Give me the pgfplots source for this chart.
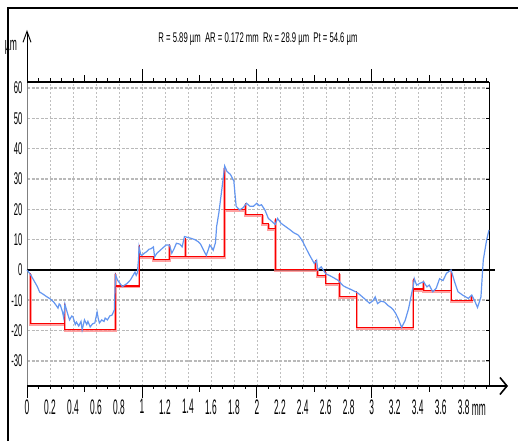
\documentclass[border=0pt]{standalone}
\usepackage{fontspec}
\setmainfont{Liberation Sans}
\newfontfamily\tickx{Liberation Sans}[FakeStretch=0.4]
\newfontfamily\ticky{Liberation Sans}[FakeStretch=0.45]
\newfontfamily\titlef{Liberation Sans}[FakeStretch=0.55]
\usepackage{pgfplots}
\pgfplotsset{compat=1.18}
\usetikzlibrary{arrows.meta}

\definecolor{profile}{RGB}{100,150,240}
\definecolor{meanred}{RGB}{250,0,0}
\definecolor{meanpink}{RGB}{255,130,130}

% mean line steps (red)
\pgfplotstableread{
x y
0.03 -1
0.03 -17.8
0.33 -17.8
0.33 -11
0.33 -19.8
0.77 -19.8
0.77 -1
0.77 -5.3
0.975 -5.3
0.975 8.3
0.975 4.3
1.10 4.3
1.10 3.4
1.24 3.4
1.24 8.5
1.24 4.3
1.38 4.3
1.38 10.5
1.38 4.3
1.72 4.3
1.72 34
1.72 19.8
1.90 19.8
1.90 22
1.90 18.2
2.05 18.2
2.05 15.2
2.10 15.2
2.10 13.8
2.16 13.8
2.16 17
2.16 0
2.51 0
2.51 3.2
2.51 0
2.53 0
2.53 -1.7
2.60 -1.7
2.60 -0.3
2.60 -4.4
2.72 -4.4
2.72 -1
2.72 -8.9
2.87 -8.9
2.87 -7
2.87 -18.9
3.36 -18.9
3.36 -2.9
3.36 -6.3
3.45 -6.3
3.45 -3.5
3.45 -6.8
3.69 -6.8
3.69 0
3.69 -10
3.87 -10
3.87 -8.5
3.87 -10
3.88 -10
}\meanline

\pgfplotstableread{
x y
0 0
0.03 -1.5
0.06 -3.5
0.09 -5.5
0.11 -7.3
0.14 -8
0.17 -8.8
0.20 -9.5
0.23 -10.5
0.25 -11.5
0.27 -12.6
0.28 -11.2
0.29 -11.6
0.31 -14
0.32 -15.9
0.33 -11.3
0.35 -14
0.37 -16.5
0.39 -15.2
0.40 -15.5
0.42 -18
0.43 -17.2
0.45 -18.5
0.47 -17
0.48 -19.8
0.50 -16.5
0.52 -18
0.53 -17
0.55 -18.8
0.57 -17.8
0.59 -17.5
0.61 -13.9
0.62 -16
0.63 -17.5
0.65 -16.5
0.67 -17
0.68 -15.9
0.70 -16.5
0.72 -15.2
0.74 -14.9
0.76 -13.2
0.77 -1.7
0.79 -3.5
0.81 -4.5
0.83 -5.5
0.85 -5
0.87 -4.5
0.90 -3.3
0.92 -2
0.94 -0.7
0.95 -1.8
0.96 -1
0.97 3.3
0.975 7.6
0.99 5
1.0 4.8
1.02 5.5
1.04 6
1.06 6.8
1.08 7
1.10 7.6
1.11 4.3
1.13 5.5
1.16 6.5
1.18 7.2
1.21 8.2
1.24 8.2
1.26 5.5
1.28 7
1.30 8.8
1.33 8.5
1.35 7.6
1.37 11
1.40 10.7
1.43 10.4
1.46 10
1.49 9.3
1.51 8.5
1.53 7
1.55 5.5
1.56 4.8
1.58 7
1.59 8.2
1.61 7.2
1.62 6.5
1.64 9
1.65 14.3
1.67 19
1.68 22
1.70 28
1.72 34.3
1.74 32.5
1.77 31.5
1.80 29.3
1.81 25
1.82 21
1.85 19.8
1.88 20.5
1.91 22
1.94 21
1.97 21
2.0 22
2.02 21.2
2.04 21.5
2.07 19.8
2.10 17
2.13 16
2.16 15
2.18 17
2.21 15.4
2.25 14.3
2.29 13.2
2.32 12.3
2.36 11.5
2.38 10.5
2.40 9.3
2.43 7
2.46 4.8
2.50 2.1
2.52 3.2
2.53 0
2.56 1
2.60 -1.3
2.63 -1.8
2.66 -2.4
2.71 -3.5
2.75 -5.2
2.78 -5.8
2.81 -6.3
2.87 -7.4
2.90 -8.3
2.94 -9.6
2.98 -11
3.01 -10.2
3.03 -8.9
3.05 -11.1
3.08 -10.3
3.11 -10.6
3.14 -11.7
3.17 -12.5
3.19 -13.3
3.21 -14.5
3.23 -16.1
3.26 -19
3.29 -16.7
3.32 -12.8
3.35 -7.2
3.36 -5.6
3.37 -2.9
3.39 -5
3.42 -4.4
3.45 -3.9
3.48 -5.6
3.50 -5
3.53 -7.2
3.56 -6.1
3.59 -2.9
3.62 -3.5
3.65 -1.1
3.69 0
3.72 -3.9
3.75 -7.2
3.79 -8.3
3.84 -9.4
3.87 -8.3
3.90 -10.6
3.92 -12.4
3.95 -8.9
3.97 3.2
4.0 10
4.02 13.2
}\profiledata

\begin{document}
\begin{tikzpicture}
\useasboundingbox (0pt,0pt) rectangle (518pt,441pt);
\begin{axis}[
  at={(27pt,55pt)}, anchor=south west,
  scale only axis, width=462pt, height=304pt,
  xmin=0, xmax=4.02, ymin=-38.3, ymax=62,
  clip=false,
  axis line style={draw=none},
  xtick={0,0.2,0.4,0.6,0.8,1,1.2,1.4,1.6,1.8,2,2.2,2.4,2.6,2.8,3,3.2,3.4,3.6,3.8},
  xticklabels={0,0.2,0.4,0.6,0.8,1,1.2,1.4,1.6,1.8,2,2.2,2.4,2.6,2.8,3,3.2,3.4,3.6,3.8},
  ytick={-30,-20,-10,0,10,20,30,40,50,60},
  yticklabels={-30,-20,-10,0,10,20,30,40,50,60},
  x tick style={draw=none},
  ytick pos=right, yticklabel pos=left,
  y tick style={black, line width=0.8pt},
  tick align=inside, major tick length=3pt,
  xmajorgrids, ymajorgrids,
  x grid style={gray!50, dash pattern=on 2pt off 2pt, line width=0.4pt},
  y grid style={gray!55, dash pattern=on 3pt off 1.5pt, line width=1.5pt},
  xticklabel style={font=\tickx\fontsize{21}{21}\selectfont, yshift=-10pt},
  yticklabel style={font=\ticky\fontsize{17}{17}\selectfont, xshift=-1pt},
]
% borders and axis arrows
\draw[gray, line width=0.6pt] (axis cs:0,-38.3) -- (axis cs:0,62);
\draw[black, line width=0.8pt] (axis cs:4.02,-38.3) -- (axis cs:4.02,62);
\draw[black, line width=1.6pt] (axis cs:0,62) -- (axis cs:4.02,62);
\draw[black, line width=1.6pt, -{Straight Barb[length=7pt,width=17pt]}]
  (axis cs:0,-38.3) -- (axis cs:4.02,-38.3) -- ++(19pt,0pt);
\draw[black, line width=0.9pt, -{Straight Barb[length=11pt,width=8pt]}]
  (axis cs:0,62) -- ++(0pt,52pt);
% scale ticks
\pgfplotsinvokeforeach{0.1,0.2,...,3.95}{
  \draw[line width=0.8pt] (axis cs:#1,-38.3) -- ++(0pt,-3pt);
  \draw[line width=0.8pt] (axis cs:#1,62) -- ++(0pt,4pt);
}
\pgfplotsinvokeforeach{0.5,1.5,2.5,3.5}{
  \draw[line width=0.8pt] (axis cs:#1,-38.3) -- ++(0pt,-6pt);
  \draw[line width=0.8pt] (axis cs:#1,62) -- ++(0pt,7pt);
}
\pgfplotsinvokeforeach{0,1,2,3}{
  \draw[line width=0.8pt] (axis cs:#1,-38.3) -- ++(0pt,-12pt);
  \draw[line width=0.8pt] (axis cs:#1,62) -- ++(0pt,13pt);
}
% zero line
\addplot[black, line width=1.6pt] coordinates {(0,0) (4.07,0)};
% profile and mean lines
\addplot[meanpink, line width=2.6pt, opacity=0.75, yshift=-1.2pt] table[x=x,y=y] {\meanline};
\addplot[meanred, line width=1.1pt] table[x=x,y=y] {\meanline};
\addplot[profile, line width=1.2pt] table[x=x,y=y] {\profiledata};
\node[anchor=west, font=\tickx\fontsize{21}{21}\selectfont, inner sep=0pt]
  at (axis cs:3.87,-38.3) [yshift=-24pt] {mm};
\end{axis}
\draw[line width=2.5pt] (8pt,0pt) -- (8pt,433pt) -- (518pt,433pt);
\node[font=\titlef\fontsize{14}{14}\selectfont, inner sep=0pt] at (258pt,402pt)
  {R = 5.89 µm\ \ AR = 0.172 mm\ \ Rx = 28.9 µm\ \ Pt = 54.6 µm};
\node[font=\ticky\fontsize{19}{19}\selectfont, inner sep=0pt] at (11pt,394pt) {µm};
\end{tikzpicture}
\end{document}
